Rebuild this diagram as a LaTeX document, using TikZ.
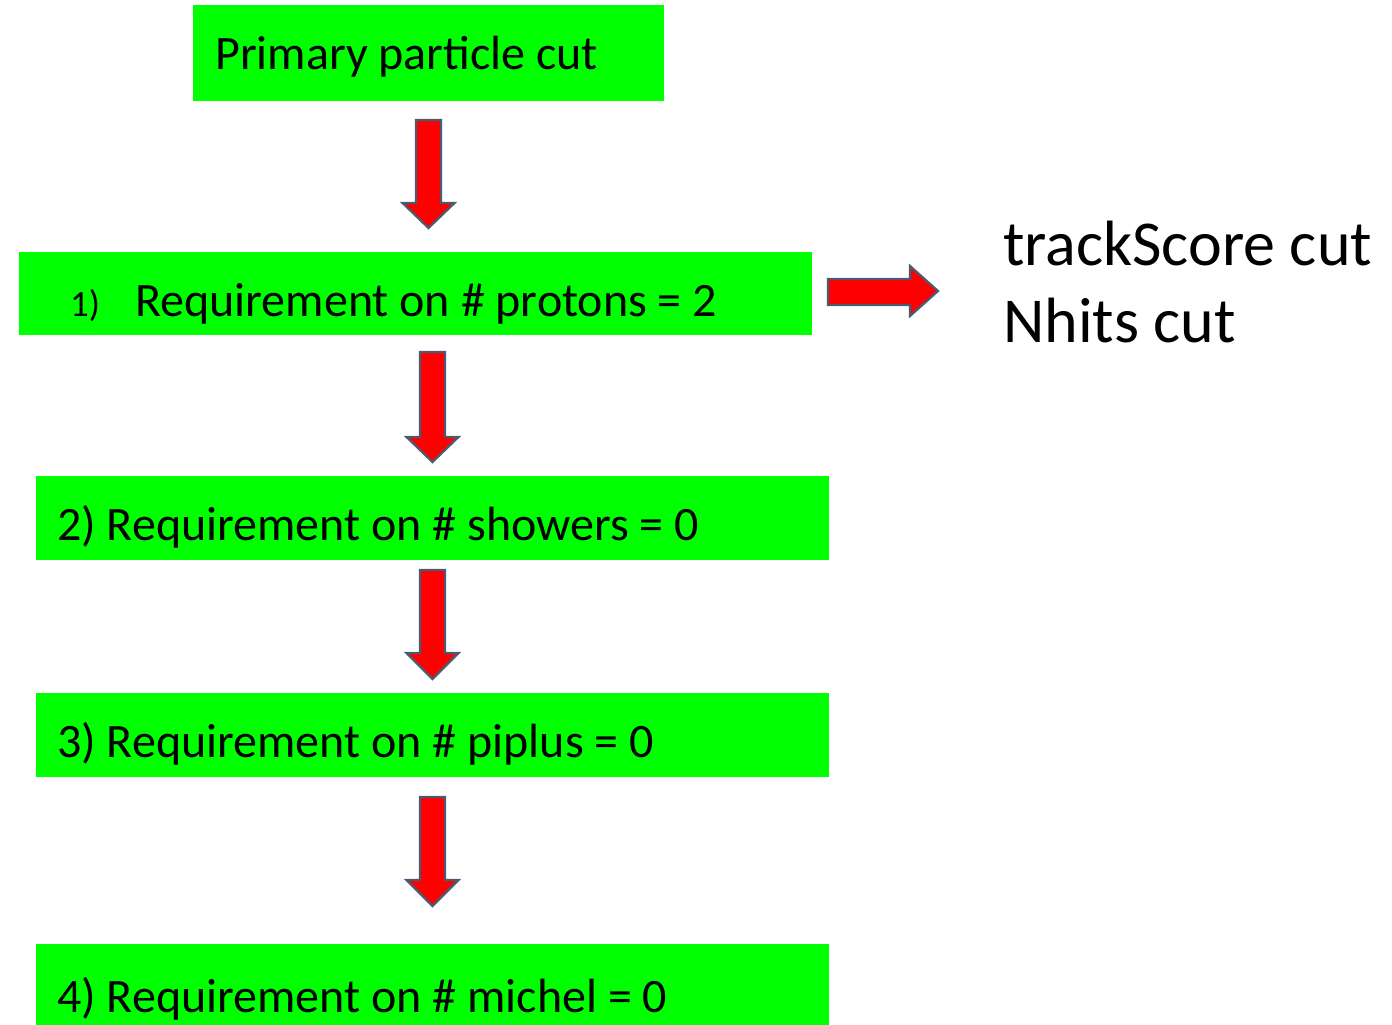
\documentclass[tikz,border=0pt]{standalone}
\usepackage{fontspec}
\setmainfont{Carlito}
\definecolor{boxgreen}{RGB}{0,255,0}
\definecolor{arrowred}{RGB}{255,0,0}
\definecolor{arrowedge}{RGB}{74,90,112}
\tikzset{
  stage/.style={fill=boxgreen, draw=none},
  label/.style={anchor=base west, inner sep=0pt, font=\fontsize{48}{56}\selectfont},
  blockarrow/.style={fill=arrowred, draw=arrowedge, line width=2.2pt, line join=miter},
}
% vertical block arrow: #1 centre x, #2 top y, #3 start of head y, #4 tip y
\newcommand\blockdown[4]{%
  \draw[blockarrow] (#1-12.5,#2) -- (#1+12.5,#2) -- (#1+12.5,#3) -- (#1+26,#3)
    -- (#1,#4) -- (#1-26,#3) -- (#1-12.5,#3) -- cycle;}
\begin{document}
\begin{tikzpicture}[x=1pt,y=-1pt]
\useasboundingbox (0,0) rectangle (1392,1025);
% stages
\fill[stage] (193,5) rectangle (664,101);
\node[label] (t0) at (215,70) {Primary particle cut};
\fill[stage] (19,252) rectangle (812,335);
\node[label, font=\fontsize{37}{44}\selectfont] (n1) at (70,316) {1)};
\node[label] (t1) at (135,316) {Requirement on \# protons = 2};
\fill[stage] (36,476) rectangle (829,560);
\node[label] (t2) at (57,540) {2) Requirement on \# showers = 0};
\fill[stage] (36,693) rectangle (829,777);
\node[label] (t3) at (57,757) {3) Requirement on \# piplus = 0};
\fill[stage] (36,944) rectangle (829,1025);
\node[label] (t4) at (57,1012) {4) Requirement on \# michel = 0};
% arrows between stages
\blockdown{428.5}{120}{203}{228}
\blockdown{432.5}{352}{437}{462}
\blockdown{432.5}{570}{653}{679}
\blockdown{432.5}{797}{880}{906}
% side arrow and notes
\draw[blockarrow] (828,279) -- (910,279) -- (910,266) -- (938,291) -- (910,316)
  -- (910,305) -- (828,305) -- cycle;
\node[label, font=\fontsize{64}{76}\selectfont] (n2) at (1003,265) {trackScore cut};
\node[label, font=\fontsize{64}{76}\selectfont] (n3) at (1003,342) {Nhits cut};
\end{tikzpicture}
\end{document}
